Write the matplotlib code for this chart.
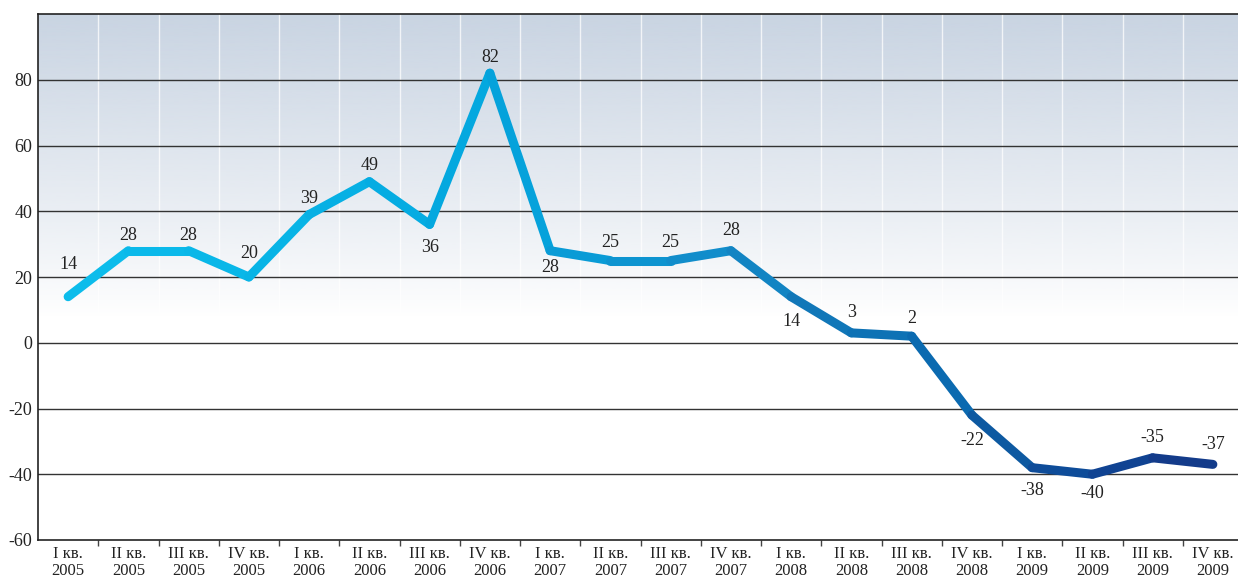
import numpy as np
import matplotlib
matplotlib.use("Agg")
import matplotlib.pyplot as plt
from matplotlib.collections import LineCollection
from matplotlib.colors import LinearSegmentedColormap, to_rgb

quarters = ["I кв.", "II кв.", "III кв.", "IV кв."]
years = ["2005", "2006", "2007", "2008", "2009"]
categories = [f"{q}\n{y}" for y in years for q in quarters]
values = [14, 28, 28, 20, 39, 49, 36, 82, 28, 25, 25, 28, 14, 3, 2, -22, -38, -40, -35, -37]
label_offsets_px = [-32, -15, -15, -24, -16, -16, 23, -16, 17, -18, -18, -20, 25, -20, -18, 25, 23, 19, -20, -20]
yticks = [-60, -40, -20, 0, 20, 40, 60, 80]

plt.rcParams['font.family'] = ['Liberation Serif', 'DejaVu Serif']

W, H = 1238, 584
fig = plt.figure(figsize=(W / 100, H / 100), dpi=100)
ax = fig.add_axes([38 / W, 44 / H, 1205 / W, 526 / H])
n = len(values)
ax.set_xlim(0, n)
ax.set_ylim(-60, 100)

# gradient background
top_col = np.array(to_rgb('#c9d4e2'))
ys = np.linspace(100, -60, 400)
alpha = np.clip((ys - 8) / (100 - 8), 0, 1) ** 0.9
img = np.ones((400, 1, 4))
img[:, 0, :3] = top_col
img[:, 0, 3] = alpha
ax.imshow(img, extent=[0, n, -60, 100], aspect='auto', zorder=0, interpolation='bilinear')

# vertical white separators
for b in range(1, n):
    ax.axvline(b, color='white', lw=1.0, alpha=0.75, zorder=1)

# horizontal grid
for t in yticks[1:]:
    ax.axhline(t, color='#333333', lw=1.0, zorder=2)

# gradient line
xs = np.arange(n) + 0.5
pts = np.column_stack([xs, values])
segs = [pts[i:i + 2] for i in range(n - 1)]
cmap = LinearSegmentedColormap.from_list('c', [
    (0.0, '#0cbdec'), (0.2, '#08b3e6'), (0.37, '#03a6de'), (0.58, '#1389c8'),
    (0.66, '#1177b8'), (0.76, '#0b6cb1'), (0.82, '#0d57a0'), (0.88, '#0e4a98'),
    (1.0, '#143786')])
cols = [cmap((i + 0.5) / (n - 1)) for i in range(n - 1)]
lc = LineCollection(segs, colors=cols, linewidths=6.5, capstyle='round', joinstyle='round', zorder=3)
ax.add_collection(lc)

# data labels
for x, v, off in zip(xs, values, label_offsets_px):
    ax.annotate(str(v), (x, v), xytext=(0, -off * 0.72), textcoords='offset points',
                ha='center', va='center', fontsize=13, color='#222222', zorder=4)

# axes styling
for s in ['top', 'left', 'bottom']:
    ax.spines[s].set_color('#222222')
    ax.spines[s].set_linewidth(1.2)
ax.spines['right'].set_visible(False)
ax.set_yticks(yticks)
ax.set_yticklabels([str(t) for t in yticks], fontsize=13, color='#222222')
ax.tick_params(axis='y', length=0, pad=4)
ax.set_xticks(xs)
ax.set_xticklabels(categories, fontsize=12, color='#222222', linespacing=1.1)
ax.tick_params(axis='x', which='major', length=0, pad=4)
ax.set_xticks(np.arange(1, n), minor=True)
ax.tick_params(axis='x', which='minor', length=4, width=1, color='#444444', direction='out')

fig.savefig('out.png', dpi=100)
